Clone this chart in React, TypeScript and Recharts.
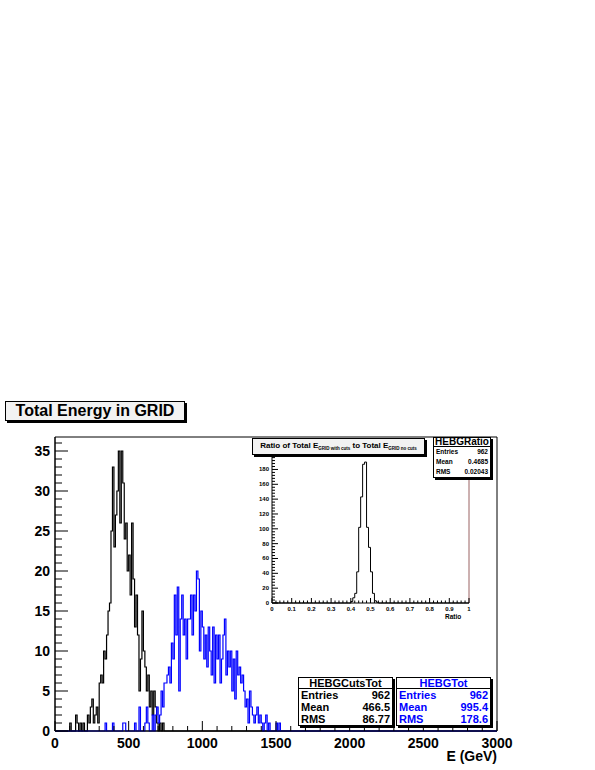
import { LineChart, Line, XAxis, YAxis, ReferenceArea, ReferenceLine } from 'recharts';

const FONT = '"Liberation Sans", Arial, Helvetica, sans-serif';

// main histograms: 10 GeV bins, counts start at the given energy
const BIN_W = 10;
const E_MAX = 3000;
const CUTS_START = 100;
const CUTS_COUNTS = [
  1, 0, 0, 0, 2, 1, 0, 1, 0, 1,
  0, 0, 2, 1, 3, 4, 1, 2, 3, 1,
  6, 7, 6, 10, 9, 12, 15, 16, 25, 33,
  23, 27, 30, 35, 26, 35, 31, 24, 26, 20,
  22, 17, 26, 19, 13, 17, 12, 5, 9, 15,
  10, 8, 5, 7, 3, 5, 2, 5, 3, 1,
  0, 1, 0, 1, 0,
];
const TOT_START = 300;
const TOT_COUNTS = [
  0, 0, 0, 0, 1, 0, 0, 0, 0, 1,
  0, 0, 0, 0, 0, 0, 1, 1, 0, 0,
  0, 0, 0, 0, 1, 0, 0, 3, 0, 0,
  0, 1, 3, 1, 0, 0, 2, 0, 2, 3,
  1, 2, 5, 3, 6, 6, 7, 8, 6, 11,
  9, 17, 12, 18, 5, 14, 17, 12, 14, 9,
  14, 14, 17, 12, 17, 15, 20, 19, 10, 15,
  13, 9, 12, 8, 13, 10, 7, 13, 6, 12,
  9, 12, 6, 9, 12, 14, 7, 10, 8, 10,
  5, 9, 4, 10, 7, 8, 6, 7, 5, 3,
  4, 1, 5, 3, 2, 1, 2, 3, 1, 2,
  1, 0, 1, 2, 0, 1, 0, 0, 0, 0,
  1, 0, 1, 0,
];
const Y_TICKS = Array.from({ length: 37 }, (_, i) => i);
const X_TICKS = Array.from({ length: 31 }, (_, i) => i * 100);

// inset ratio histogram: 0.01 bins
const RATIO_W = 0.01;
const RATIO_START = 0.40;
const RATIO_COUNTS = [2, 7, 13, 42, 102, 143, 187, 190, 102, 75, 42, 13, 3, 1];
const RY_TICKS = Array.from({ length: 50 }, (_, i) => i * 4);
const RX_TICKS = Array.from({ length: 51 }, (_, i) => Math.round(i * 2) / 100);

const CUTS_STATS = [['Entries', '962'], ['Mean', '466.5'], ['RMS', '86.77']];
const TOT_STATS = [['Entries', '962'], ['Mean', '995.4'], ['RMS', '178.6']];
const RATIO_STATS = [['Entries', '962'], ['Mean', '0.4685'], ['RMS', '0.02043']];

const pick = (arr: number[], start: number, w: number, x: number) => {
  const i = Math.round((x - start) / w);
  return i >= 0 && i < arr.length ? arr[i] : 0;
};

const mainData = Array.from({ length: E_MAX / BIN_W + 1 }, (_, i) => {
  const e = i * BIN_W;
  return { e, cuts: pick(CUTS_COUNTS, CUTS_START, BIN_W, e), tot: pick(TOT_COUNTS, TOT_START, BIN_W, e) };
});

const ratioData = Array.from({ length: 101 }, (_, i) => {
  const r = i / 100;
  return { r, n: pick(RATIO_COUNTS, RATIO_START, RATIO_W, r) };
});

const MainYTick = (p: any) => {
  const v = p.payload.value;
  const major = v % 5 === 0;
  return (
    <g>
      <line x1={55} x2={55 + (major ? 13 : 7)} y1={p.y} y2={p.y} stroke="#000" />
      {major && (
        <text x={50} y={p.y + 5} textAnchor="end" fontSize={14} fontWeight="bold" fontFamily={FONT} fill="#000">{v}</text>
      )}
    </g>
  );
};

const MainXTick = (p: any) => {
  const v = p.payload.value;
  const major = v % 500 === 0;
  return (
    <g>
      <line x1={p.x} x2={p.x} y1={731} y2={731 - (major ? 10 : 5)} stroke="#000" />
      {major && (
        <text x={p.x} y={748} textAnchor="middle" fontSize={14} fontWeight="bold" fontFamily={FONT} fill="#000">{v}</text>
      )}
    </g>
  );
};

const RatioYTick = (p: any) => {
  const v = p.payload.value;
  const major = v % 20 === 0;
  return (
    <g>
      <line x1={32} x2={32 + (major ? 6 : 3)} y1={p.y} y2={p.y} stroke="#000" />
      {major && (
        <text x={29} y={p.y + 2} textAnchor="end" fontSize={6} fontWeight="bold" fontFamily={FONT} fill="#000">{v}</text>
      )}
    </g>
  );
};

const RatioXTick = (p: any) => {
  const v = p.payload.value;
  const major = Math.abs(v * 10 - Math.round(v * 10)) < 1e-6;
  return (
    <g>
      <line x1={p.x} x2={p.x} y1={163} y2={163 - (major ? 5 : 2.5)} stroke="#000" />
      {major && (
        <text x={p.x} y={171} textAnchor="middle" fontSize={6} fontWeight="bold" fontFamily={FONT} fill="#000">{Math.round(v * 10) / 10}</text>
      )}
    </g>
  );
};

function StatBox({ left, top, width, height, name, rows, color, headSize, rowSize, headH, pad }: any) {
  const rowH = (height - headH - 3) / rows.length;
  return (
    <div style={{
      position: 'absolute', left, top, width, height, boxSizing: 'border-box', border: '1px solid #000',
      background: '#fff', boxShadow: '2px 2px 0 #000', color, fontFamily: FONT, fontWeight: 'bold',
    }}>
      <div style={{ height: headH, lineHeight: `${headH}px`, textAlign: 'center', fontSize: headSize, borderBottom: '1px solid #000' }}>{name}</div>
      {rows.map(([k, v]: string[]) => (
        <div key={k} style={{ display: 'flex', justifyContent: 'space-between', padding: `0 ${pad}px`, height: rowH, lineHeight: `${rowH}px`, fontSize: rowSize }}>
          <span>{k}</span><span>{v}</span>
        </div>
      ))}
    </div>
  );
}

export default function App() {
  return (
    <div style={{ position: 'absolute', left: 0, top: 0, width: 595, height: 770, background: '#fff', overflow: 'hidden' }}>
      {/* main frame */}
      <div style={{ position: 'absolute', left: 0, top: 0 }}>
        <LineChart width={595} height={770} data={mainData} margin={{ top: 437, right: 98, bottom: 9, left: 15 }}>
          <XAxis dataKey="e" type="number" domain={[0, E_MAX]} ticks={X_TICKS} interval={0} height={30}
            tick={MainXTick} tickLine={false} axisLine={{ stroke: '#000' }} />
          <YAxis type="number" domain={[0, 36.75]} ticks={Y_TICKS} interval={0} width={40}
            tick={MainYTick} tickLine={false} axisLine={{ stroke: '#000' }} />
          <ReferenceArea x1={0} x2={E_MAX} y1={0} y2={36.75} fill="none" stroke="#000" strokeWidth={1} />
          <Line dataKey="cuts" type="stepAfter" stroke="#000" strokeWidth={1.2} dot={false} activeDot={false} isAnimationActive={false} />
          <Line dataKey="tot" type="stepAfter" stroke="#0000ff" strokeWidth={1.2} dot={false} activeDot={false} isAnimationActive={false} />
        </LineChart>
      </div>
      <div style={{ position: 'absolute', right: 98, top: 748, fontFamily: FONT, fontWeight: 'bold', fontSize: 14 }}>E (GeV)</div>

      {/* inset ratio */}
      <div style={{ position: 'absolute', left: 240, top: 440 }}>
        <LineChart width={240} height={190} data={ratioData} margin={{ top: 15, right: 11, bottom: 12, left: 8 }}>
          <XAxis dataKey="r" type="number" domain={[0, 1]} ticks={RX_TICKS} interval={0} height={15}
            tick={RatioXTick} tickLine={false} axisLine={{ stroke: '#000' }} />
          <YAxis type="number" domain={[0, 199.5]} ticks={RY_TICKS.filter(t => t <= 199.5)} interval={0} width={24}
            tick={RatioYTick} tickLine={false} axisLine={{ stroke: '#000' }} />
          <ReferenceLine x={1} stroke="#9a6262" strokeWidth={1} />
          <Line dataKey="n" type="stepAfter" stroke="#000" strokeWidth={1} dot={false} activeDot={false} isAnimationActive={false} />
        </LineChart>
      </div>
      <div style={{ position: 'absolute', left: 445, top: 613, fontFamily: FONT, fontWeight: 'bold', fontSize: 6.5 }}>Ratio</div>

      {/* titles */}
      <div style={{
        position: 'absolute', left: 5, top: 401, width: 180, height: 20, boxSizing: 'border-box', border: '1px solid #000',
        background: '#f2f2f2', boxShadow: '2px 2px 0 #000', fontFamily: FONT, fontWeight: 'bold', fontSize: 16,
        textAlign: 'center', lineHeight: '18px',
      }}>Total Energy in GRID</div>
      <div style={{
        position: 'absolute', left: 252, top: 438, width: 173, height: 17, boxSizing: 'border-box', border: '1px solid #000',
        background: '#f2f2f2', boxShadow: '2px 2px 0 #000', fontFamily: FONT, fontWeight: 'bold', fontSize: 8,
        textAlign: 'center', lineHeight: '13px', whiteSpace: 'nowrap',
      }}>
        Ratio of Total E<span style={{ fontSize: 4.5, position: 'relative', top: 2 }}>GRID with cuts</span> to Total E<span style={{ fontSize: 4.5, position: 'relative', top: 2 }}>GRID no cuts</span>
      </div>

      <StatBox left={433} top={437} width={58} height={41} name="HEBGRatio" rows={RATIO_STATS} color="#000"
        headSize={10} rowSize={6.5} headH={8} pad={2} />
      <StatBox left={298} top={677} width={95} height={49} name="HEBGCutsTot" rows={CUTS_STATS} color="#000"
        headSize={11} rowSize={11} headH={10} pad={2} />
      <StatBox left={396} top={677} width={95} height={49} name="HEBGTot" rows={TOT_STATS} color="#0000ff"
        headSize={11} rowSize={11} headH={10} pad={2} />
    </div>
  );
}
